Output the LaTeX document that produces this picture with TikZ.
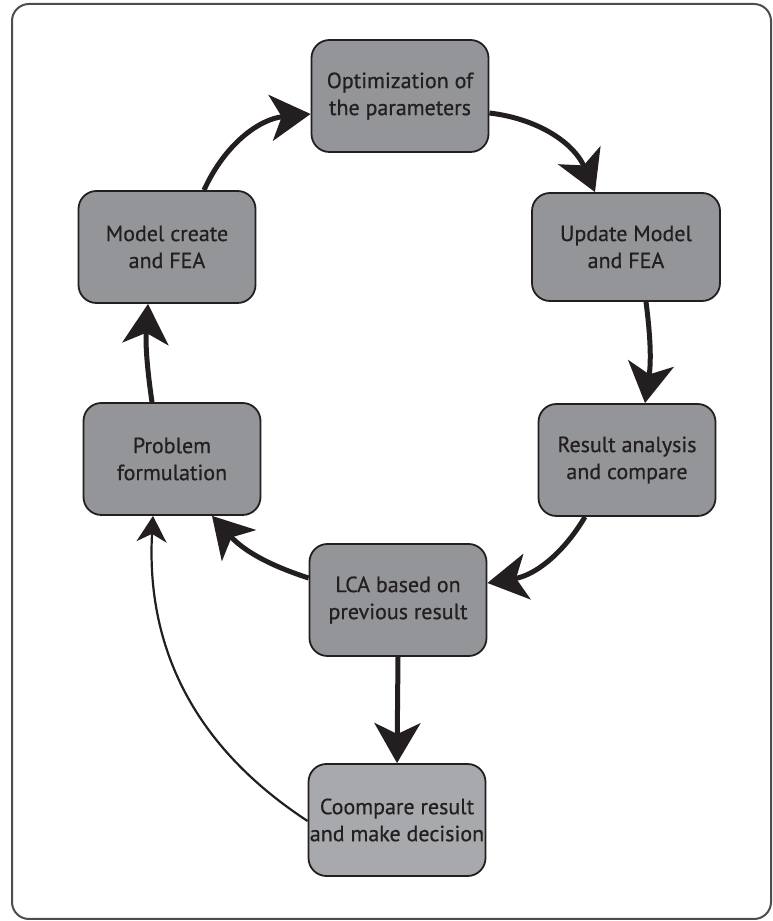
\documentclass[tikz,border=0pt]{standalone}
\usepackage{fontspec}
\setmainfont{PT Sans}[FakeBold=0.6]
\usetikzlibrary{arrows.meta}
\definecolor{boxgray}{HTML}{939598}
\definecolor{boxlight}{HTML}{A7A9AC}
\definecolor{ink}{HTML}{231F20}

\begin{document}
\begin{tikzpicture}[
  x=1pt, y=1pt,
  stage/.style={draw=ink,line width=1.8pt,fill=boxgray,rounded corners=18pt,minimum width=177pt,
                minimum height=112pt,align=center,inner sep=1pt,text=ink,font=\fontsize{22}{27}\selectfont},
  flow/.style={ink,line width=5pt,-{Stealth[length=40pt,width=46pt,inset=11pt]}},
  back/.style={ink,line width=2.2pt,-{Stealth[length=26pt,width=30pt,inset=8pt]}}]

\useasboundingbox (0,0) rectangle (773,921);
\draw[ink!80,line width=2pt,rounded corners=17pt] (12,2) rectangle (771,917);

\node[stage] (opt)   at (400,825) {Optimization of\\the parameters};
\node[stage] (model) at (167,674) {Model create\\and FEA};
\node[stage,minimum width=188pt,minimum height=108pt] (upd) at (626,674) {Update Model\\and FEA};
\node[stage] (prob)  at (172,462) {Problem\\formulation};
\node[stage] (res)   at (627,461) {Result analysis\\and compare};
\node[stage] (lca)   at (398,321) {LCA based on\\previous result};
\node[stage,fill=boxlight] (cmp) at (397,101) {Coompare result\\and make decision};

\draw[flow] ([xshift=37pt]model.north) to[bend left=30] ([yshift=-18pt]opt.west);
\draw[flow] ([yshift=-17pt]opt.east) to[bend left=30] ([xshift=-31pt]upd.north);
\draw[flow] ([xshift=20pt]upd.south) to[bend left=8] ([xshift=18pt]res.north);
\draw[flow] ([xshift=-42pt]res.south) to[bend left=25] ([yshift=17pt]lca.east);
\draw[flow] ([yshift=22pt]lca.west) to[bend left=15] ([xshift=40pt]prob.south);
\draw[flow] (lca.south) -- (cmp.north);
\draw[back] ([yshift=-1pt]cmp.west) to[bend left=30] ([xshift=-19pt]prob.south);
\draw[flow] ([xshift=-20pt]prob.north) to[bend left=6] ([xshift=-19pt]model.south);
\end{tikzpicture}
\end{document}
